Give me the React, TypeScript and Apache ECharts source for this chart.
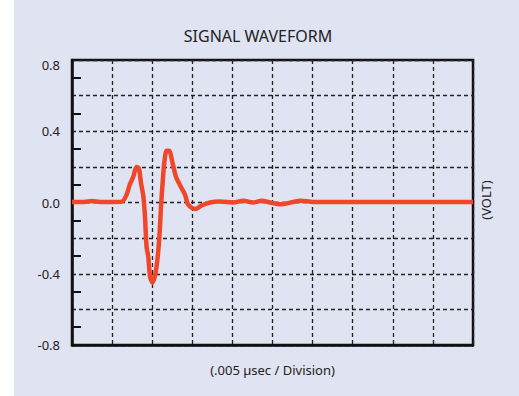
import React, { useEffect, useRef } from "react";
import * as echarts from "echarts";

const timeDiv = [
  0, 0.3, 0.5, 0.7, 1.0, 1.24, 1.36, 1.44, 1.53, 1.61, 1.67, 1.72, 1.78, 1.82, 1.86, 1.9, 1.95, 2.01,
  2.08, 2.13, 2.18, 2.22, 2.26, 2.3, 2.36, 2.42, 2.51, 2.59, 2.71, 2.82, 2.9, 3.07, 3.23, 3.44, 3.69,
  4.02, 4.27, 4.52, 4.73, 4.94, 5.19, 5.52, 5.69, 6.02, 7, 8, 9, 10,
];
const voltage = [
  0.003, 0.003, 0.008, 0.003, 0.003, 0.005, 0.043, 0.1, 0.146, 0.2, 0.19, 0.11, 0.034, -0.08, -0.25,
  -0.3, -0.42, -0.45, -0.4, -0.32, -0.19, -0.02, 0.11, 0.22, 0.29, 0.29, 0.22, 0.146, 0.09, 0.043,
  -0.013, -0.037, -0.017, 0.0, 0.005, 0.0, 0.01, 0.0, 0.01, 0.0, -0.01, 0.003, 0.01, 0.003, 0.003,
  0.003, 0.003, 0.003,
];
const yLabels = ["0.8", "0.4", "0.0", "-0.4", "-0.8"];

const TITLE = "SIGNAL WAVEFORM";
const X_NAME = "(.005 µsec / Division)";
const Y_NAME = "(VOLT)";

export default function App() {
  const ref = useRef<HTMLDivElement>(null);
  useEffect(() => {
    if (!ref.current) return;
    const chart = echarts.init(ref.current, null, { renderer: "svg" });
    const font = "'Noto Sans', 'Open Sans', sans-serif";
    const grid = "#222";
    chart.setOption({
      animation: false,
      backgroundColor: "#e0e3f1",
      title: {
        text: TITLE,
        left: 253,
        textAlign: "center",
        top: 23,
        textStyle: { fontFamily: font, fontSize: 16, fontWeight: "normal", color: "#222" },
      },
      grid: {
        left: 72,
        top: 60,
        right: 46,
        bottom: 51,
        show: true,
        borderColor: "#111",
        borderWidth: 2.5,
        backgroundColor: "transparent",
      },
      graphic: [
        { type: "rect", left: 0, top: 0, shape: { width: 14, height: 396 }, style: { fill: "#ffffff" } },
        {
          type: "text",
          x: 486,
          y: 200,
          rotation: Math.PI / 2,
          style: {
            text: Y_NAME,
            fontFamily: font,
            fontSize: 13,
            fill: "#222",
            align: "center",
            verticalAlign: "middle",
          },
        },
      ],
      xAxis: {
        type: "value",
        min: 0,
        max: 10,
        interval: 1,
        name: X_NAME,
        nameLocation: "middle",
        nameGap: 18,
        nameTextStyle: { fontFamily: font, fontSize: 13, color: "#222" },
        axisLine: { show: true, onZero: false, lineStyle: { color: "#111", width: 2.5 } },
        axisTick: { show: false },
        axisLabel: { show: false },
        splitLine: { show: true, lineStyle: { color: grid, width: 1.3, type: [4, 3] } },
      },
      yAxis: {
        type: "value",
        min: -0.8,
        max: 0.8,
        interval: 0.2,
        axisLine: { show: true, onZero: false, lineStyle: { color: "#111", width: 2.5 } },
        axisTick: { show: false, inside: true },
        minorTick: { show: true, splitNumber: 2, length: 9, lineStyle: { color: "#111", width: 2 } },
        axisLabel: {
          fontFamily: font,
          fontSize: 13,
          color: "#222",
          margin: 12,
          rich: {
            top: { fontFamily: font, fontSize: 13, color: "#222", padding: [9, 0, 0, 0] },
          },
          formatter: (v: number) => {
            const s = v.toFixed(1);
            const t = s === "-0.0" ? "0.0" : s;
            if (!yLabels.includes(t)) return "";
            return t === yLabels[0] ? `{top|${t}}` : t;
          },
        },
        splitLine: { show: true, lineStyle: { color: grid, width: 1.3, type: [4, 3] } },
      },
      series: [
        {
          type: "line",
          data: timeDiv.map((t, i) => [t, voltage[i]]),
          smooth: 0.3,
          showSymbol: false,
          lineStyle: { color: "#f0472a", width: 4.5 },
        },
      ],
    });
    return () => chart.dispose();
  }, []);
  return (
    <div
      ref={ref}
      style={{ position: "absolute", left: 0, top: 0, width: 519, height: 396 }}
    />
  );
}
